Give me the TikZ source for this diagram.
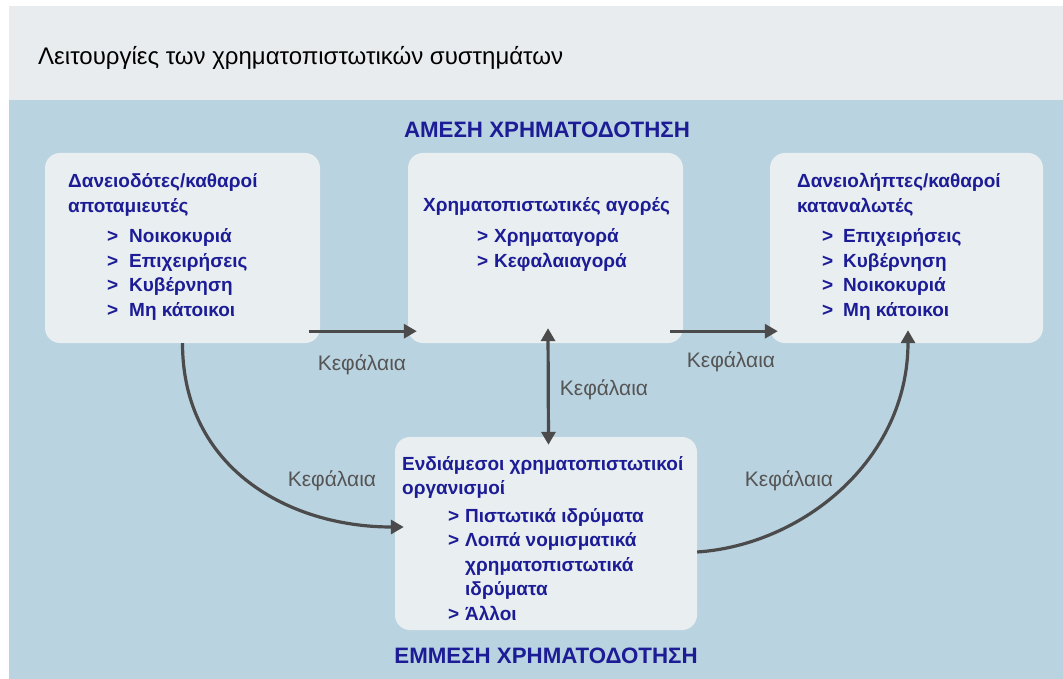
\documentclass[tikz,border=0pt]{standalone}
\usepackage{fontspec}
\setmainfont{Liberation Sans}
\usetikzlibrary{arrows.meta}
\definecolor{bandblue}{RGB}{186,211,224}
\definecolor{topgray}{RGB}{232,236,238}
\definecolor{boxfill}{RGB}{233,238,240}
\definecolor{navy}{RGB}{28,28,150}
\definecolor{flowgray}{RGB}{75,75,75}
\definecolor{lblgray}{RGB}{85,85,85}
\newcommand{\bul}[2]{\hspace*{#1pt}\makebox[#2pt][l]{>}}
\begin{document}
\begin{tikzpicture}[x=1pt,y=-1pt,
    box/.style={rectangle,rounded corners=15pt,fill=boxfill,inner sep=0pt},
    boxtext/.style={align=left,text=navy,font=\fontsize{19}{24.5}\selectfont\bfseries,inner sep=0pt,anchor=base west},
    flow/.style={draw=flowgray,line width=3.2pt,-{Triangle[length=13pt,width=14pt]}},
    both/.style={{Triangle[length=13pt,width=14pt]}-{Triangle[length=13pt,width=14pt]}},
    lbl/.style={text=lblgray,font=\fontsize{21}{24}\selectfont,inner sep=0pt,anchor=base},
    head/.style={text=navy,font=\fontsize{22.3}{26}\selectfont\bfseries,inner sep=0pt,anchor=base}
  ]
  \useasboundingbox (0,0) rectangle (1063,679);
  \fill[white] (0,0) rectangle (1063,679);
  \fill[topgray] (9,6) rectangle (1063,100);
  \fill[bandblue] (9,100) rectangle (1063,679);

  \node[anchor=base west,inner sep=0pt,text=black,font=\fontsize{24}{28}\selectfont] (title) at (38,65) {Λειτουργίες των χρηματοπιστωτικών συστημάτων};
  \node[head] (direct) at (547,138) {ΑΜΕΣΗ ΧΡΗΜΑΤΟΔΟΤΗΣΗ};
  \node[head] (indirect) at (546,663) {ΕΜΜΕΣΗ ΧΡΗΜΑΤΟΔΟΤΗΣΗ};

  \node[box,minimum width=275pt,minimum height=190pt] (lend) at (182.5,248) {};
  \node[box,minimum width=275pt,minimum height=190pt] (mkt) at (545.5,248) {};
  \node[box,minimum width=273pt,minimum height=190pt] (borr) at (906.5,248) {};
  \node[box,minimum width=302pt,minimum height=193pt] (inter) at (546,533.5) {};

  % multi-line text: anchored at the baseline of the last line
  \node[boxtext] (lendtxt) at (68,316) {Δανειοδότες/καθαροί\\
    αποταμιευτές\\[6pt]
    \bul{39}{22}Νοικοκυριά\\
    \bul{39}{22}Επιχειρήσεις\\
    \bul{39}{22}Κυβέρνηση\\
    \bul{39}{22}Μη κάτοικοι};
  \node[boxtext] (mkttxt) at (423,267) {Χρηματοπιστωτικές αγορές\\[6pt]
    \bul{54}{17}Χρηματαγορά\\
    \bul{54}{17}Κεφαλαιαγορά};
  \node[boxtext] (borrtxt) at (797,316) {Δανειολήπτες/καθαροί\\
    καταναλωτές\\[6pt]
    \bul{25}{21}Επιχειρήσεις\\
    \bul{25}{21}Κυβέρνηση\\
    \bul{25}{21}Νοικοκυριά\\
    \bul{25}{21}Μη κάτοικοι};
  \node[boxtext] (intertxt) at (402,620) {Ενδιάμεσοι χρηματοπιστωτικοί\\
    οργανισμοί\\[3pt]
    \bul{46}{17}Πιστωτικά ιδρύματα\\
    \bul{46}{17}Λοιπά νομισματικά\\
    \hspace*{63pt}χρηματοπιστωτικά\\
    \hspace*{63pt}ιδρύματα\\
    \bul{46}{17}Άλλοι};

  \draw[flow] ([xshift=-11pt,yshift=12pt]lend.south east) -- ([xshift=9pt,yshift=12pt]mkt.south west);
  \draw[flow] ([xshift=-13pt,yshift=12pt]mkt.south east) -- ([xshift=8pt,yshift=12pt]borr.south west);
  \draw[flow,both] ([xshift=2.5pt,yshift=15pt]mkt.south) -- ([xshift=2.5pt,yshift=-8pt]inter.north);
  \draw[flow] (lend.south) .. controls +(0,125) and +(-115,0) .. ([xshift=9pt,yshift=6.5pt]inter.west);
  \draw[flow] ([yshift=-18.5pt]inter.east) .. controls +(105,-7) and +(0,130) .. ([xshift=1.5pt,yshift=13pt]borr.south);

  \node[lbl] (k1) at (362,370) {Κεφάλαια};
  \node[lbl] (k2) at (731,367) {Κεφάλαια};
  \node[lbl] (k3) at (604,395) {Κεφάλαια};
  \node[lbl] (k4) at (332,486) {Κεφάλαια};
  \node[lbl] (k5) at (789,486) {Κεφάλαια};
\end{tikzpicture}
\end{document}
